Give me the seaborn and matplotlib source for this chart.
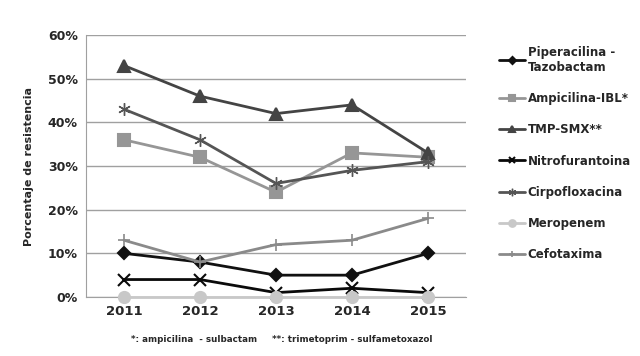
import matplotlib
matplotlib.use("Agg")
import matplotlib.pyplot as plt
import seaborn as sns
import pandas as pd

years = ["2011", "2012", "2013", "2014", "2015"]
series_names = ["Piperacilina -\nTazobactam", "Ampicilina-IBL*", "TMP-SMX**",
                "Nitrofurantoina", "Cirpofloxacina", "Meropenem", "Cefotaxima"]
piperacilina = [10, 8, 5, 5, 10]
ampicilina = [36, 32, 24, 33, 32]
tmp_smx = [53, 46, 42, 44, 33]
nitrofurantoina = [4, 4, 1, 2, 1]
cirpofloxacina = [43, 36, 26, 29, 31]
meropenem = [0, 0, 0, 0, 0]
cefotaxima = [13, 8, 12, 13, 18]
values = [piperacilina, ampicilina, tmp_smx, nitrofurantoina, cirpofloxacina, meropenem, cefotaxima]
y_ticks = [0, 10, 20, 30, 40, 50, 60]

colors = ["#111111", "#969696", "#444444", "#0a0a0a", "#555555", "#c8c8c8", "#8a8a8a"]
markers = ["D", "s", "^", "x", (6, 2, 0), "o", "+"]
msizes = [6, 8, 8, 8, 9, 8, 8]
mew = [1.5, 1.5, 1.5, 1.5, 1.0, 1.5, 1.2]

rows = []
for name, vals in zip(series_names, values):
    for i, (yr, v) in enumerate(zip(years, vals)):
        rows.append({"serie": name, "x": i, "valor": v})
df = pd.DataFrame(rows)

sns.set_style("white")
plt.rcParams["font.family"] = ["DejaVu Sans"]
fig = plt.figure(figsize=(6.4, 3.56), dpi=100)
ax = fig.add_axes([86/640, 1 - 297/356, 380/640, (297 - 35)/356])

for name, c, m, ms, ew in zip(series_names, colors, markers, msizes, mew):
    sub = df[df["serie"] == name]
    sns.lineplot(data=sub, x="x", y="valor", ax=ax, color=c, marker=m, markersize=ms,
                 linewidth=2.0, label=name, markeredgecolor=c, markeredgewidth=ew,
                 clip_on=False, zorder=3)

ax.set_xlim(-0.5, 4.5)
ax.set_ylim(0, 60)
ax.set_yticks(y_ticks)
ax.set_yticklabels([f"{t}%" for t in y_ticks], fontsize=9, fontweight="bold")
ax.set_xticks(range(len(years)))
ax.set_xticklabels(years, fontsize=9.5, fontweight="bold")
ax.set_xlabel("")
ax.set_ylabel("Porcentaje de resistencia", fontsize=8, fontweight="bold", labelpad=10)
ax.yaxis.grid(True, color="#a0a0a0", linewidth=1)
ax.set_axisbelow(True)
for s in ["top", "right"]:
    ax.spines[s].set_visible(False)
ax.spines["left"].set_color("#a0a0a0")
ax.spines["bottom"].set_color("#a0a0a0")
ax.tick_params(axis="both", length=0, pad=6)

leg = ax.legend(loc="upper left", bbox_to_anchor=(1.06, 1.0), frameon=False,
                prop={"size": 8.5, "weight": "bold"}, labelspacing=1.55,
                handlelength=2.2, handletextpad=0.2, markerscale=0.6)

fig.text(0.44, 1 - 340/356, "*: ampicilina  - sulbactam     **: trimetoprim - sulfametoxazol",
         fontsize=6.3, fontweight="bold", ha="center", va="center")

fig.savefig("out.png", dpi=100)
